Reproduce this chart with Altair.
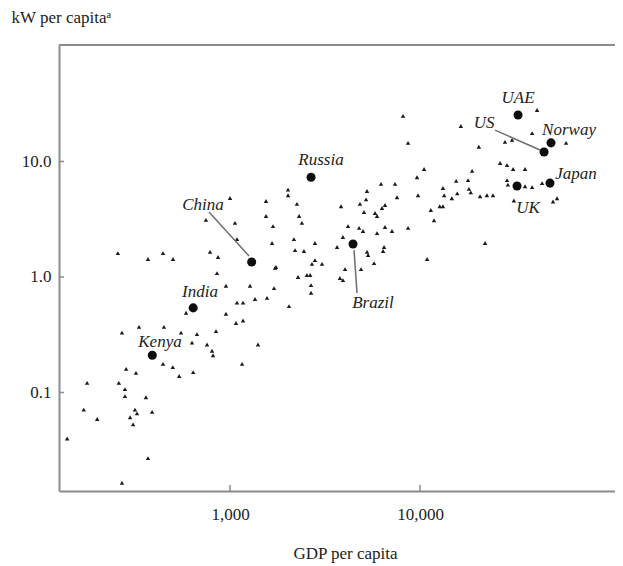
import altair as alt
import pandas as pd

# ---- small (unlabelled) countries: GDP per capita, kW per capita ----
gdp = [284, 320, 444, 500, 540, 640, 177, 260, 280, 280, 361, 170, 200, 298, 316, 324, 309, 389, 139, 370, 270, 1157,
       1000, 1547, 747, 1062, 1547, 1684, 1088, 1664, 257, 370, 444, 501, 785, 865, 1746, 854, 952, 1274, 1704,
       1088, 1171, 1354, 1566, 2044, 587, 952, 1075, 1171, 270, 332, 449, 552, 670, 844, 631, 757, 804, 814, 1404,
       8650, 10500, 9640, 6230, 7390, 5260, 9760, 7570, 2020, 2020, 2250, 3840, 4830, 5200, 6540, 6310, 11400,
       5070, 5800, 5940, 11850, 2310, 2390, 4180, 4780, 5010, 6540, 7120, 5940, 8650, 3930, 2170, 2800, 2200,
       2450, 3660, 5260, 5330, 6470, 6390, 10900, 5730, 1725, 2700, 2800, 3050, 2540, 2640, 2280, 4030, 4890,
       3790, 3930, 2670, 2670,
       8140, 16400, 41300, 38900, 28000, 30500, 58700, 20400, 26400, 28700, 30900, 35700, 18800, 15500, 17900,
       28700, 29000, 35700, 38900, 43900, 13200, 13400, 18100, 18500, 15700, 14700, 20700, 22500, 24200, 12700,
       13200, 31200, 50100, 52600, 22000]
kw = [0.16, 0.148, 0.177, 0.166, 0.139, 0.150, 0.121, 0.121, 0.107, 0.093, 0.091, 0.071, 0.059, 0.061, 0.071, 0.066,
      0.053, 0.068, 0.040, 0.027, 0.0165, 0.177,
      4.83, 4.55, 3.12, 2.94, 3.37, 2.76, 2.13, 1.97, 1.61, 1.43, 1.61, 1.43, 1.65, 1.49, 1.22, 1.08, 0.84, 0.84, 0.80,
      0.60, 0.60, 0.645, 0.66, 0.56, 0.49, 0.48, 0.40, 0.42, 0.33, 0.37, 0.37, 0.33, 0.32, 0.34, 0.27, 0.26, 0.23,
      0.21, 0.26,
      14.5, 8.6, 7.3, 6.4, 6.4, 5.55, 5.1, 4.9, 5.7, 5.1, 4.3, 4.1, 4.3, 4.7, 4.2, 3.96, 3.8,
      3.65, 3.58, 3.37, 3.1, 3.37, 2.94, 2.76, 2.66, 2.5, 2.71, 2.5, 2.4, 2.66, 2.22, 2.13, 1.97, 1.71,
      1.68, 1.82, 1.65, 1.55, 1.82, 1.68, 1.43, 1.32, 1.2, 1.3, 1.4, 1.3, 1.04, 1.04, 1.0, 1.17, 1.17,
      0.98, 0.94, 0.85, 0.73,
      24.8, 20.3, 27.9, 17.6, 14.8, 15.4, 14.5, 13.4, 9.7, 9.3, 8.6, 8.6, 8.3, 6.8, 6.9,
      6.9, 6.3, 6.1, 6.0, 6.5, 5.9, 5.1, 5.8, 5.4, 5.3, 4.8, 5.0, 5.1, 5.1, 4.1,
      4.1, 4.6, 4.5, 4.8, 1.97]

# ---- highlighted countries ----
countries = ["Kenya", "India", "China", "Russia", "Brazil", "UAE", "US", "Norway", "Japan", "UK"]
c_gdp = [390, 640, 1300, 2670, 4440, 32800, 44950, 48900, 48300, 32400]
c_kw = [0.21, 0.54, 1.35, 7.3, 1.93, 25.3, 12.1, 14.5, 6.5, 6.14]
# label anchor (centre of the text)
lab_gdp = [428, 695, 721, 3012, 5656, 32800, 21720, 60840, 66240, 37020]
lab_kw = [0.274, 0.741, 4.20, 10.3, 0.596, 35.5, 21.5, 18.7, 7.8, 3.96]

# ---- leader lines (China, US, Brazil) ----
lead_gdp = [775, 24820, 4494]
lead_kw = [3.65, 18.7, 1.71]
lead_gdp2 = [1259, 42810, 4660]
lead_kw2 = [1.52, 12.58, 0.727]

x_ticks = [1000, 10000]
y_ticks = [0.1, 1, 10]

W, H = 556, 446
GREY = "#8c8c8c"
FONT = "Liberation Serif"

xs = alt.Scale(type="log", domain=[125.9, 106200], nice=False)
ys = alt.Scale(type="log", domain=[0.01403, 102], nice=False)

x_axis = alt.Axis(values=x_ticks, format=",d", tickSize=0, labelPadding=15, labelFont=FONT,
                  labelFontSize=17, labelColor="#222", domainColor=GREY, domainWidth=2, grid=False,
                  title="GDP per capita", titleFont=FONT, titleFontSize=17, titleFontWeight="normal",
                  titleColor="#222", titleX=286, titleY=62, titleBaseline="middle")
y_axis = alt.Axis(values=y_ticks, labelExpr="format(datum.value, '.1f')", tickSize=0, labelPadding=8,
                  labelFont=FONT, labelFontSize=17, labelColor="#222", domainColor=GREY, domainWidth=2,
                  grid=False, title="kW per capitaᵃ", titleFont=FONT, titleFontSize=17,
                  titleFontWeight="normal", titleColor="#222", titleAngle=0, titleX=-48, titleY=-28,
                  titleAlign="left", titleBaseline="middle")

pts = pd.DataFrame({"gdp": gdp, "kw": kw})
named = pd.DataFrame({"country": countries, "gdp": c_gdp, "kw": c_kw})
labels = pd.DataFrame({"country": countries, "gdp": lab_gdp, "kw": lab_kw})
leaders = pd.DataFrame({"gdp": lead_gdp, "kw": lead_kw, "gdp2": lead_gdp2, "kw2": lead_kw2})

small = alt.Chart(pts).mark_point(shape="triangle-up", filled=True, size=20, color="#1a1a1a", opacity=1).encode(
    x=alt.X("gdp:Q", scale=xs, axis=x_axis),
    y=alt.Y("kw:Q", scale=ys, axis=y_axis),
)

lead = alt.Chart(leaders).mark_rule(color="#6e6e6e", strokeWidth=1.5).encode(
    x=alt.X("gdp:Q", scale=xs), y=alt.Y("kw:Q", scale=ys), x2="gdp2:Q", y2="kw2:Q"
)

big = alt.Chart(named).mark_circle(size=82, color="#0d0d0d", opacity=1).encode(
    x=alt.X("gdp:Q", scale=xs), y=alt.Y("kw:Q", scale=ys)
)

txt = alt.Chart(labels).mark_text(font=FONT, fontStyle="italic", fontSize=17, color="#222",
                                  align="center", baseline="middle").encode(
    x=alt.X("gdp:Q", scale=xs), y=alt.Y("kw:Q", scale=ys), text="country:N"
)

xt = alt.Chart(pd.DataFrame({"gdp": x_ticks})).mark_rule(color=GREY, strokeWidth=1.5).encode(
    x=alt.X("gdp:Q", scale=xs), y=alt.value(H), y2=alt.value(H - 6)
)
yt = alt.Chart(pd.DataFrame({"kw": y_ticks})).mark_rule(color=GREY, strokeWidth=1.5).encode(
    y=alt.Y("kw:Q", scale=ys), x=alt.value(0), x2=alt.value(5)
)
top = alt.Chart(pd.DataFrame({"a": [0]})).mark_rule(color=GREY, strokeWidth=2).encode(
    y=alt.value(0), x=alt.value(0), x2=alt.value(W)
)

chart = alt.layer(small, lead, big, txt, xt, yt, top).properties(
    width=W, height=H,
    autosize=alt.AutoSizeParams(type="none"),
    padding={"left": 51, "top": 37, "right": 0, "bottom": 72},
).configure_view(stroke=None)

chart.save("out.html", embed_options={"renderer": "svg", "actions": False})
